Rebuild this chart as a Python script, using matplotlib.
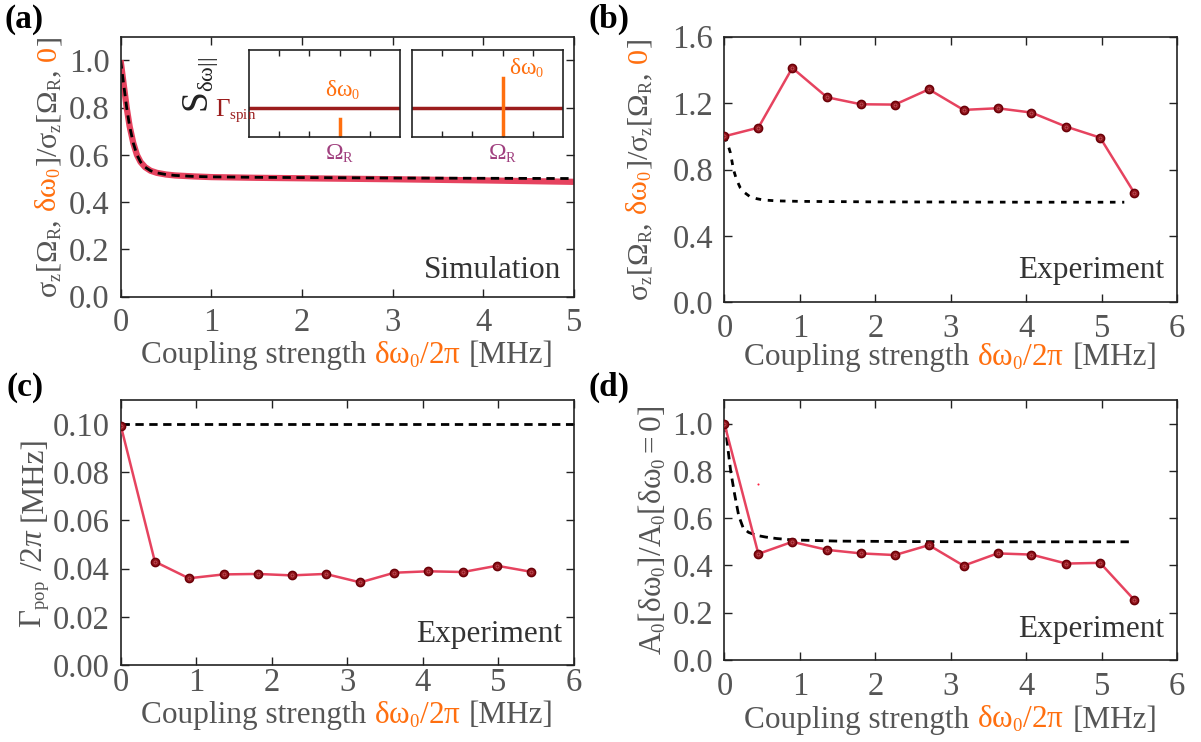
import numpy as np
import matplotlib
matplotlib.use('Agg')
import matplotlib.pyplot as plt
from matplotlib.transforms import IdentityTransform
from matplotlib.ticker import FormatStrFormatter
import matplotlib._mathtext as mt

plt.rcParams['font.family'] = ['Liberation Serif', 'DejaVu Serif']
plt.rcParams['mathtext.fontset'] = 'custom'
plt.rcParams['mathtext.rm'] = 'Liberation Serif'
plt.rcParams['mathtext.it'] = 'Liberation Serif:italic'
plt.rcParams['mathtext.bf'] = 'Liberation Serif:bold'
plt.rcParams['mathtext.default'] = 'regular'
# smaller subscripts, closer to the original figure
if hasattr(mt, 'SHRINK_FACTOR'):
    mt.SHRINK_FACTOR = 0.6

# ---- data ----
# (a) simulation
a_theory_x = [0, 0.03, 0.067, 0.1, 0.14, 0.18, 0.22, 0.27, 0.33, 0.4, 0.5, 0.6, 0.8, 1.0, 1.5, 2, 3, 4, 5]
a_theory_y = [1.0, 0.91, 0.80, 0.72, 0.65, 0.60, 0.57, 0.548, 0.533, 0.524, 0.517, 0.513, 0.509, 0.507, 0.505, 0.504, 0.502, 0.501, 0.500]
a_sim_x = [0, 0.03, 0.067, 0.1, 0.14, 0.18, 0.22, 0.27, 0.33, 0.4, 0.5, 0.6, 0.8, 1.0, 1.5, 2, 3, 4, 5]
a_sim_y = [1.0, 0.91, 0.80, 0.72, 0.65, 0.60, 0.57, 0.548, 0.533, 0.524, 0.517, 0.513, 0.509, 0.506, 0.503, 0.501, 0.497, 0.492, 0.486]

# inset spectra (normalised units)
inset_level = 0.335
inset_center = 0.6
inset_peak = [0.21, 0.675]

# experiment
exp_x = [0, 0.45, 0.9, 1.36, 1.81, 2.26, 2.71, 3.17, 3.62, 4.07, 4.53, 4.98, 5.43]
b_y = [1.0, 1.052, 1.412, 1.235, 1.193, 1.191, 1.283, 1.159, 1.169, 1.143, 1.058, 0.992, 0.661]
c_y = [0.0992, 0.0429, 0.0360, 0.0376, 0.0378, 0.0372, 0.0378, 0.0343, 0.0383, 0.0389, 0.0386, 0.0412, 0.0387]
d_y = [1.0, 0.449, 0.50, 0.466, 0.451, 0.444, 0.486, 0.399, 0.451, 0.446, 0.408, 0.411, 0.255]

b_theory_x = [0, 0.04, 0.08, 0.12, 0.16, 0.21, 0.27, 0.34, 0.43, 0.52, 0.7, 1.0, 2, 3, 4, 5.3]
b_theory_y = [1.0, 0.96, 0.90, 0.80, 0.74, 0.69, 0.66, 0.636, 0.624, 0.616, 0.611, 0.608, 0.605, 0.604, 0.603, 0.603]
c_theory_x = [0, 6]
c_theory_y = [0.1, 0.1]
d_theory_x = [0, 0.012, 0.048, 0.083, 0.136, 0.19, 0.25, 0.32, 0.43, 0.55, 0.69, 0.9, 1.5, 2.5, 3.5, 4.5, 5.43]
d_theory_y = [1.0, 0.99, 0.89, 0.80, 0.70, 0.61, 0.558, 0.54, 0.527, 0.52, 0.514, 0.508, 0.503, 0.501, 0.50, 0.50, 0.50]
d_stray = ([0.45], [0.744])

GRAY = '#555555'
ORANGE = '#ff6f0f'
LINE = '#e6435f'
MARK = '#8e1218'
PURPLE = '#a0407f'
DRED = '#9b1c1c'
TICK = 23.5
LAB = 22.5

fig = plt.figure(figsize=(12.01, 7.42), dpi=100)
W, H = 1201, 742


def px_axes(l, t, r, b):
    return fig.add_axes([l / W, 1 - b / H, (r - l) / W, (b - t) / H])


def style(ax, xpad=8):
    ax.tick_params(direction='in', top=True, right=True, length=6, width=1,
                   labelsize=TICK, labelcolor=GRAY, color='#222222', pad=8)
    ax.tick_params(axis='x', pad=xpad)
    for s in ax.spines.values():
        s.set_linewidth(1.2)
        s.set_color('#222222')


def colored(x, y, pieces, size, vertical=False):
    # pieces: (text, colour, gap before in em)
    r = fig.canvas.get_renderer()
    em = size * fig.dpi / 72
    ts = []
    for s, c, g in pieces:
        t = fig.text(0, 0, s, color=c, fontsize=size, transform=IdentityTransform(),
                     rotation=90 if vertical else 0, rotation_mode='anchor',
                     ha='left', va='baseline')
        ts.append(t)
    lens = []
    for t, p in zip(ts, pieces):
        bb = t.get_window_extent(renderer=r)
        lens.append(bb.height if vertical else bb.width)
    total = sum(lens) + sum(p[2] * em for p in pieces)
    pos = (y if vertical else x) - total / 2
    for t, l, p in zip(ts, lens, pieces):
        pos += p[2] * em
        t.set_position((x, pos) if vertical else (pos, y))
        pos += l


def exp_plot(ax, y):
    ax.plot(exp_x, y, '-', color=LINE, lw=1.8, zorder=3)
    ax.plot(exp_x, y, 'o', ms=6, mfc=MARK, mec='#6a0008', mew=1.0, zorder=4)
    ax.plot(exp_x, y, 'o', ms=2.2, mfc='none', mec='#c0505a', mew=0.6, zorder=5)


xlab = [('Coupling strength', GRAY, 0), (r'$δω_0/2π$', ORANGE, 0.25), ('[MHz]', GRAY, 0.25)]

# (a)
ax = px_axes(120.6, 36.7, 574.0, 296.7)
ax.plot(a_sim_x, a_sim_y, color=LINE, lw=4.5, solid_capstyle='butt')
ax.plot(a_theory_x, a_theory_y, color='k', lw=2, dashes=(3, 2))
ax.set_xlim(0, 5)
ax.set_ylim(0, 1.1)
ax.set_xticks(range(6))
ax.set_yticks(np.arange(0, 1.01, 0.2))
ax.yaxis.set_major_formatter(FormatStrFormatter('%.1f'))
style(ax)
ax.text(0.971, 0.071, 'Simulation', transform=ax.transAxes, ha='right', va='baseline',
        fontsize=LAB, color='#333333')

for i, (l, r) in enumerate([(248.8, 400.0), (411.7, 563.3)]):
    ins = px_axes(l, 50, r, 137.3)
    ins.set_xlim(0, 1)
    ins.set_ylim(0, 1)
    ins.axhline(inset_level, color=DRED, lw=2.5)
    ins.plot([inset_center, inset_center], [0, inset_peak[i]], color=ORANGE, lw=2.5)
    ins.set_xticks([0.2, 0.4, 0.6, 0.8])
    ins.set_xticklabels([])
    ins.set_yticks([])
    ins.tick_params(direction='in', top=True, length=4, width=1, color='#222222')
    for s in ins.spines.values():
        s.set_linewidth(1.2)
        s.set_color('#222222')
    ins.text(inset_center, -0.06, r'$Ω_R$', color=PURPLE, fontsize=17, ha='center', va='top',
             transform=ins.transAxes)
    if i == 0:
        ins.text(0.62, 0.47, r'$δω_0$', color=ORANGE, fontsize=17, ha='center', va='baseline',
                 transform=ins.transAxes)
    else:
        ins.text(0.645, 0.72, r'$δω_0$', color=ORANGE, fontsize=17, ha='left', va='baseline',
                 transform=ins.transAxes)

fig.text(209, 742 - 113, r'$S_{δω||}$', fontsize=27, color='#222222', rotation=90,
         rotation_mode='anchor', ha='left', va='baseline', transform=IdentityTransform())
fig.text(215, 742 - 116, r'$Γ_{spin}$', fontsize=18, color=DRED, ha='left', va='baseline',
         transform=IdentityTransform())

# (b)
ax = px_axes(724.4, 36.7, 1177.1, 302.3)
exp_plot(ax, b_y)
ax.plot(b_theory_x, b_theory_y, color='k', lw=2, dashes=(2, 2.4))
ax.set_xlim(0, 6)
ax.set_ylim(0, 1.6)
ax.set_xticks(range(7))
ax.set_yticks(np.arange(0, 1.61, 0.4))
ax.yaxis.set_major_formatter(FormatStrFormatter('%.1f'))
style(ax)
ax.text(0.972, 0.091, 'Experiment', transform=ax.transAxes, ha='right', va='baseline',
        fontsize=LAB, color='#333333')

# (c)
ax = px_axes(120.9, 400, 574.0, 665)
exp_plot(ax, c_y)
ax.plot(c_theory_x, c_theory_y, color='k', lw=2, dashes=(3, 2))
ax.set_xlim(0, 6)
ax.set_ylim(0, 0.11)
ax.set_xticks(range(7))
ax.set_yticks(np.arange(0, 0.101, 0.02))
ax.yaxis.set_major_formatter(FormatStrFormatter('%.2f'))
style(ax, xpad=2)
ax.text(0.975, 0.088, 'Experiment', transform=ax.transAxes, ha='right', va='baseline',
        fontsize=LAB, color='#333333')

# (d)
ax = px_axes(724.4, 400, 1177.1, 660)
exp_plot(ax, d_y)
ax.plot(d_theory_x, d_theory_y, color='k', lw=2, dashes=(3, 2))
ax.plot(*d_stray, 'o', ms=1.5, color='#ff2040', mew=0)
ax.set_xlim(0, 6)
ax.set_ylim(0, 1.1)
ax.set_xticks(range(7))
ax.set_yticks(np.arange(0, 1.01, 0.2))
ax.yaxis.set_major_formatter(FormatStrFormatter('%.1f'))
style(ax)
ax.text(0.972, 0.09, 'Experiment', transform=ax.transAxes, ha='right', va='baseline',
        fontsize=LAB, color='#333333')

# axis labels built from coloured pieces
ylab_ab = [(r'$σ_z[Ω_R,$', GRAY, 0), (r'$δω_0$', ORANGE, 0.25), (r'$]/σ_z[Ω_R,$', GRAY, 0),
           (r'$0$', ORANGE, 0.25), (r'$]$', GRAY, 0)]
colored(57, 742 - 167.5, ylab_ab, 21.8, vertical=True)
colored(648, 742 - 170, ylab_ab, 21.8, vertical=True)
colored(42, 742 - 532, [(r'$Γ_{pop}$', GRAY, 0), (r'$/2\mathit{π}$', GRAY, 0.3),
                        ('[MHz]', GRAY, 0.25)], LAB, vertical=True)
colored(661, 742 - 530, [(r'$A_0[δω_0]/A_0[δω_0 = 0]$', GRAY, 0)], LAB, vertical=True)

colored(347.3, 742 - 363, xlab, LAB)
colored(950.7, 742 - 365, xlab, LAB)
colored(347.3, 742 - 723, xlab, LAB)
colored(950.7, 742 - 728, xlab, LAB)

for lbl, x, y in [('(a)', 5, 4), ('(b)', 588, 4), ('(c)', 6, 372), ('(d)', 588, 372)]:
    fig.text(x, 742 - y, lbl, fontsize=24, fontweight='bold', ha='left', va='top',
             transform=IdentityTransform())

fig.savefig('out.png', dpi=100)
